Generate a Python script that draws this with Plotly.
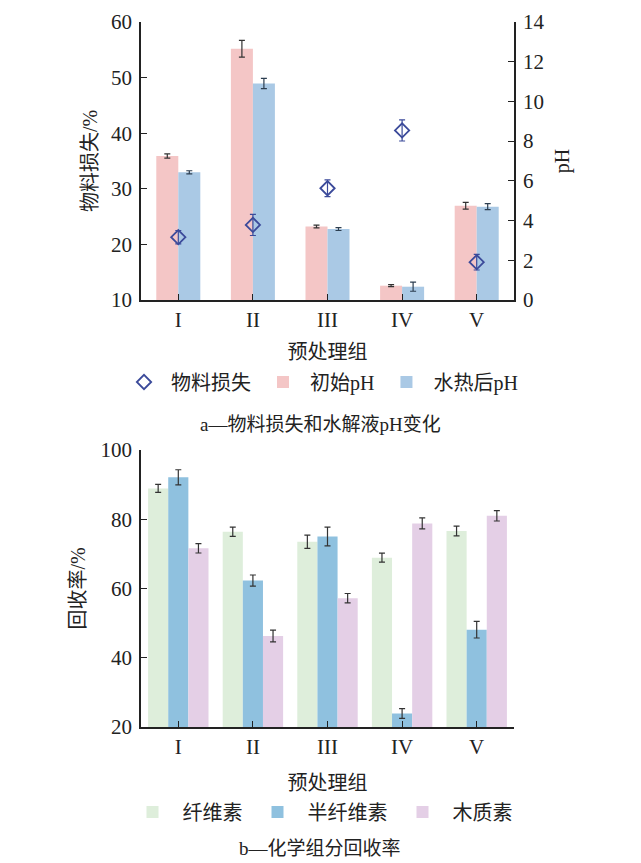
import plotly.graph_objects as go

groups = ["I", "II", "III", "IV", "V"]

# Panel a
loss = [21.3, 23.5, 30.1, 40.5, 16.8]
loss_err = [1.2, 1.9, 1.5, 1.9, 1.4]
ph_init = [7.25, 12.65, 3.7, 0.72, 4.75]
ph_init_err = [0.11, 0.42, 0.07, 0.05, 0.17]
ph_after = [6.43, 10.9, 3.57, 0.67, 4.7]
ph_after_err = [0.08, 0.26, 0.07, 0.23, 0.15]

# Panel b
cellulose = [88.9, 76.4, 73.5, 68.9, 76.6]
cellulose_err = [1.15, 1.35, 1.9, 1.3, 1.4]
hemi = [92.1, 62.3, 75.0, 23.9, 48.1]
hemi_err = [2.2, 1.6, 2.7, 1.4, 2.4]
lignin = [71.6, 46.3, 57.2, 78.8, 81.0]
lignin_err = [1.35, 1.7, 1.35, 1.6, 1.5]

W, H = 641, 863
FONT = "Liberation Serif, Noto Sans CJK SC, serif"
AX = "#222222"

def err(v, c="#333333"):
    return dict(type="data", array=v, visible=True, color=c, thickness=1.2, width=3)

fig = go.Figure()

# Panel a bars (pH, right axis = primary y)
fig.add_trace(go.Bar(x=groups, y=ph_init, error_y=err(ph_init_err), name="初始pH",
                     marker=dict(color="#f4c6c6", line_width=0), width=0.295, offset=-0.295,
                     xaxis="x", yaxis="y", legend="legend", legendrank=2))
fig.add_trace(go.Bar(x=groups, y=ph_after, error_y=err(ph_after_err, "#2c3e50"), name="水热后pH",
                     marker=dict(color="#aac9e5", line_width=0), width=0.295, offset=0.0,
                     xaxis="x", yaxis="y", legend="legend", legendrank=3))
# material loss on left axis (overlaying, drawn on top)
fig.add_trace(go.Scatter(x=groups, y=loss, error_y=err(loss_err, "#3b4a9a"), name="物料损失",
                         mode="markers",
                         marker=dict(symbol="diamond-open", size=11, color="#3b4a9a",
                                     line=dict(width=1.8, color="#3b4a9a")),
                         xaxis="x", yaxis="y2", legend="legend", legendrank=1))

# Panel b bars
fig.add_trace(go.Bar(x=groups, y=cellulose, error_y=err(cellulose_err), name="纤维素",
                     marker=dict(color="#deeedb", line_width=0), width=0.27, offset=-0.405,
                     xaxis="x2", yaxis="y3", legend="legend2"))
fig.add_trace(go.Bar(x=groups, y=hemi, error_y=err(hemi_err), name="半纤维素",
                     marker=dict(color="#8fc1df", line_width=0), width=0.27, offset=-0.135,
                     xaxis="x2", yaxis="y3", legend="legend2"))
fig.add_trace(go.Bar(x=groups, y=lignin, error_y=err(lignin_err), name="木质素",
                     marker=dict(color="#e4cfe6", line_width=0), width=0.27, offset=0.135,
                     xaxis="x2", yaxis="y3", legend="legend2"))

xd = [141 / W, 514 / W]
ya = [(H - 300) / H, (H - 22) / H]
yb = [(H - 727) / H, (H - 450) / H]

axis_common = dict(showline=True, linecolor=AX, linewidth=1.5, showgrid=False, zeroline=False,
                   ticks="inside", ticklen=6, tickcolor=AX, tickwidth=1.3, automargin=False,
                   tickfont=dict(family=FONT, size=21, color="#222"))

fig.update_layout(
    template="none",
    width=W, height=H, margin=dict(l=0, r=0, t=0, b=0, pad=0),
    paper_bgcolor="white", plot_bgcolor="white",
    barmode="overlay",
    font=dict(family=FONT, size=19, color="#222"),
    xaxis=dict(domain=xd, anchor="y", range=[-0.5, 4.5], title=dict(text="预处理组", standoff=14,
               font=dict(size=20)), **axis_common),
    yaxis=dict(domain=ya, anchor="x", side="right", range=[0, 14], dtick=2, ticklabelstandoff=3,
               title=dict(text="pH", standoff=12, font=dict(size=20)), **axis_common),
    yaxis2=dict(domain=ya, anchor="x", overlaying="y", side="left", range=[10, 60], dtick=10,
                ticklabelstandoff=3,
                title=dict(text="物料损失/%", standoff=8, font=dict(size=20)), **axis_common),
    xaxis2=dict(domain=xd, anchor="y3", range=[-0.5, 4.5], title=dict(text="预处理组", standoff=18,
                font=dict(size=20)), **axis_common),
    yaxis3=dict(domain=yb, anchor="x2", range=[20, 100], dtick=20, ticklabelstandoff=3,
                title=dict(text="回收率/%", standoff=10, font=dict(size=20)), **axis_common),
    legend=dict(orientation="h", x=320 / W, xanchor="center", y=(H - 382) / H, yanchor="middle",
                font=dict(size=20), itemwidth=44, traceorder="normal", bgcolor="rgba(0,0,0,0)"),
    legend2=dict(orientation="h", x=320 / W, xanchor="center", y=(H - 812) / H, yanchor="middle",
                 font=dict(size=20), itemwidth=50, traceorder="normal", bgcolor="rgba(0,0,0,0)"),
    annotations=[
        dict(text="a—物料损失和水解液pH变化", xref="paper", yref="paper", x=320 / W, y=(H - 425) / H,
             xanchor="center", yanchor="middle", showarrow=False, font=dict(size=19)),
        dict(text="b—化学组分回收率", xref="paper", yref="paper", x=320 / W, y=(H - 848) / H,
             xanchor="center", yanchor="middle", showarrow=False, font=dict(size=19)),
    ],
)

fig.write_html("out.html")
